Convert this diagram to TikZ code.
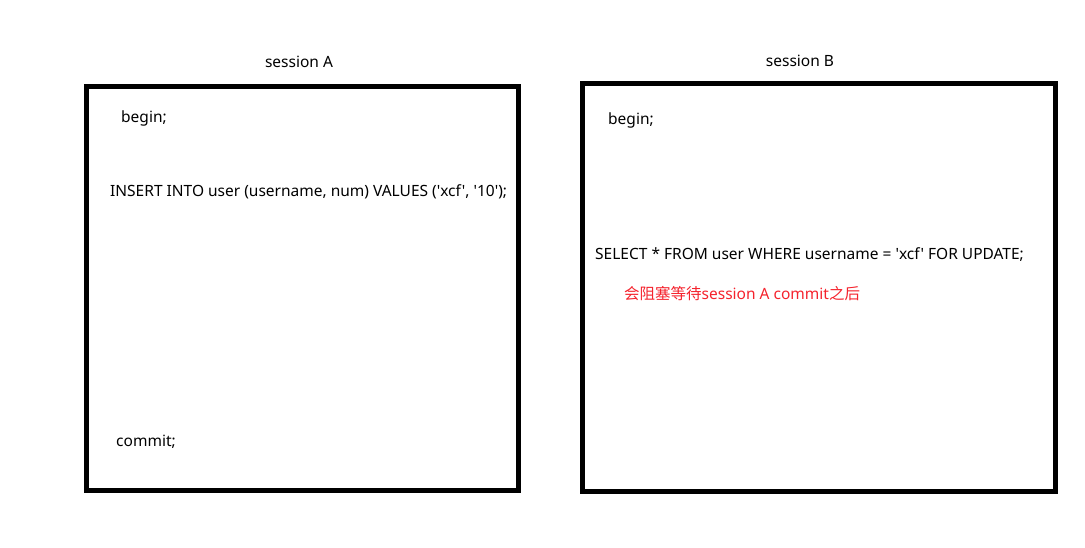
\documentclass[tikz,border=0pt]{standalone}
\usepackage{fontspec}
\newfontfamily\uifont{Noto Sans}
\newfontfamily\cjk{Noto Sans CJK SC}
\definecolor{warnred}{RGB}{245,35,45}
\begin{document}
\begin{tikzpicture}[x=1pt,y=-1pt,
  sessbox/.style={draw=black,line width=5pt},
  txt/.style={anchor=west,inner sep=0pt,font=\uifont\fontsize{15.5}{18}\selectfont},
  ttl/.style={inner sep=0pt,font=\uifont\fontsize{15.5}{18}\selectfont}]
\useasboundingbox (0,0) rectangle (1085,548);
\fill[white] (0,0) rectangle (1085,548);
\draw[sessbox] (86.5,86.5) rectangle (518,490.5);
\draw[sessbox] (582.7,83.2) rectangle (1055,491.3);
\node[ttl] (ta) at (299,62) {session A};
\node[ttl] (tb) at (800,61) {session B};
\node[txt] (a1) at (121,118) {begin;};
\node[txt] (a2) at (110,192) {INSERT INTO user (username, num) VALUES ('xcf', '10');};
\node[txt] (a3) at (116,442) {commit;};
\node[txt] (b1) at (608,120) {begin;};
\node[txt] (b2) at (595,255) {SELECT * FROM user WHERE username = 'xcf' FOR UPDATE;};
\node[txt,text=warnred] (b3) at (624,294) {{\cjk 会阻塞等待}session A commit{\cjk 之后}};
\end{tikzpicture}
\end{document}
